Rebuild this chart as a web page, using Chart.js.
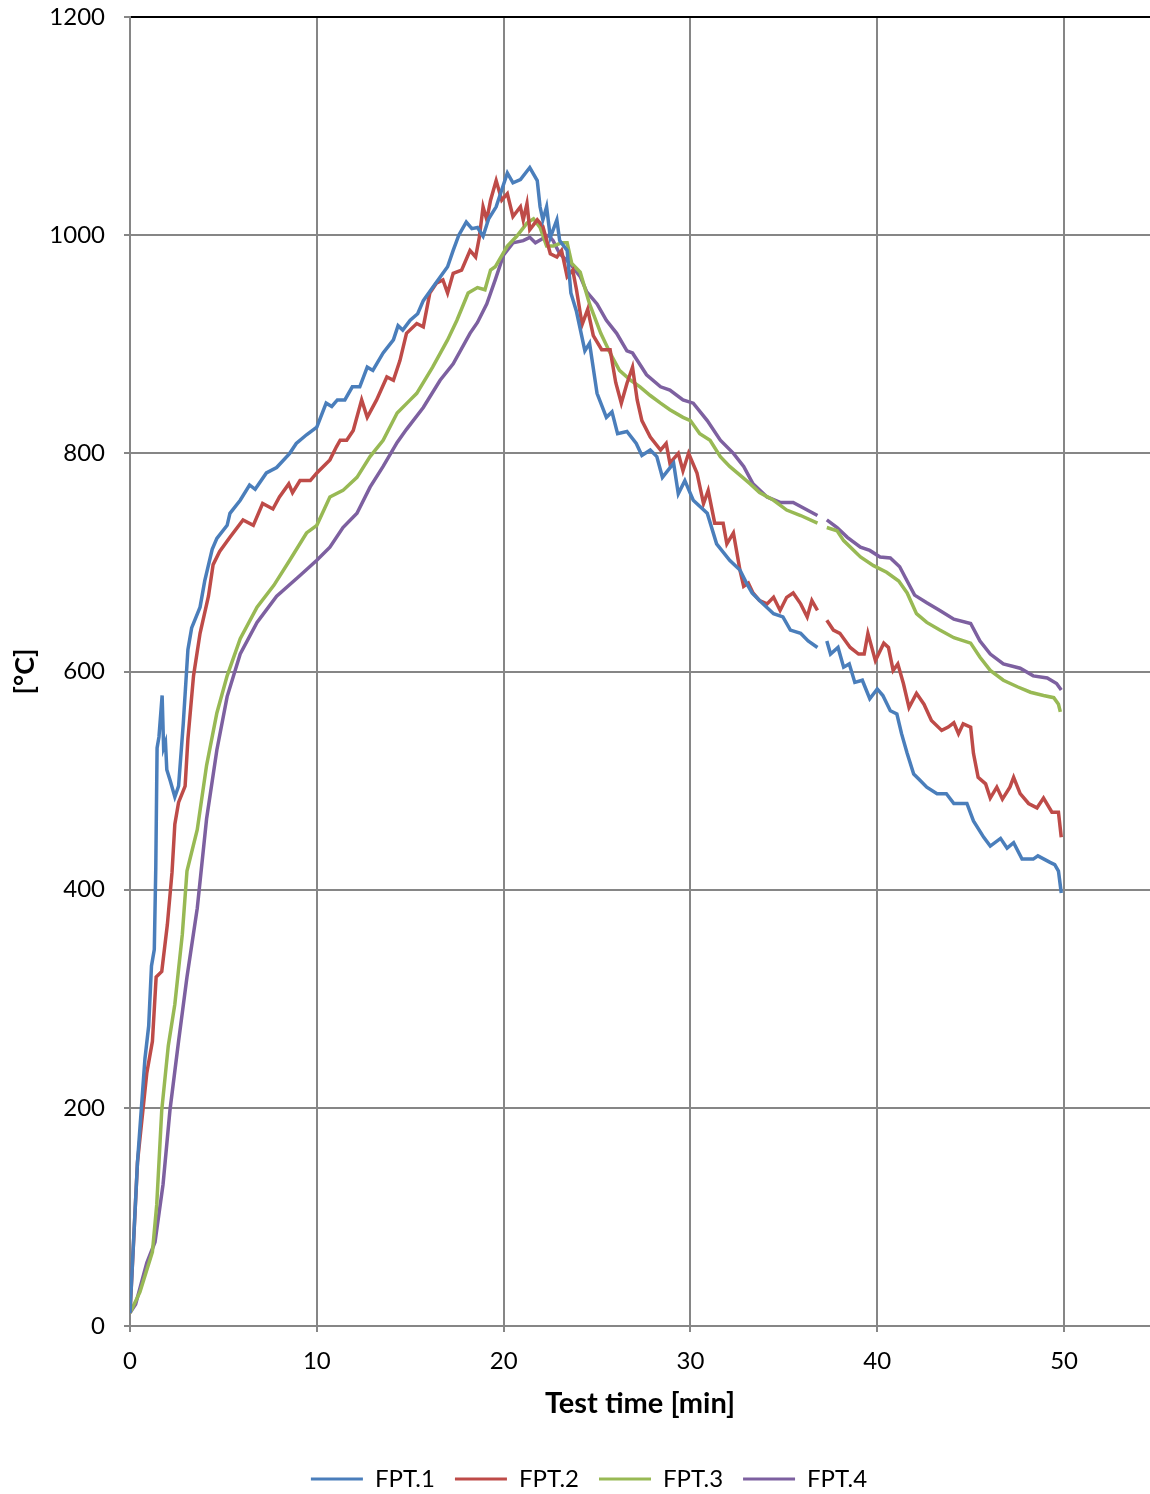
<!DOCTYPE html>
<html>
<head>
<meta charset="utf-8">
<script src="https://cdn.jsdelivr.net/npm/chart.js@4/dist/chart.umd.min.js"></script>
<style>
  body { margin: 0; background: #fff; }
  canvas { display: block; }
</style>
</head>
<body>
<canvas id="myChart" width="1150" height="1494"></canvas>
<script>

// [time min, temperature °C]; null = logger gap
const fpt1 = [
  [0, 12], [0.4, 150], [0.8, 245], [1.0, 275], [1.15, 330], [1.3, 345], [1.38, 420], [1.45, 530],
  [1.55, 540], [1.72, 578], [1.8, 530], [1.9, 535], [1.97, 510], [2.15, 500], [2.4, 485], [2.6, 495],
  [2.85, 552], [3.1, 620], [3.3, 640], [3.75, 659], [4.0, 683], [4.4, 712], [4.65, 722], [5.2, 734],
  [5.35, 745], [5.9, 757], [6.4, 771], [6.7, 767], [7.3, 782], [7.85, 787], [8.55, 800], [8.9, 809],
  [9.45, 817], [10.0, 824], [10.5, 846], [10.8, 843], [11.1, 849], [11.5, 849], [11.9, 861], [12.3, 861],
  [12.7, 879], [13.0, 876], [13.55, 892], [14.1, 904], [14.35, 917], [14.6, 913], [15.0, 922], [15.4, 928],
  [15.7, 940], [16.2, 952], [17.0, 971], [17.3, 986], [17.6, 1000], [18.0, 1012], [18.3, 1006], [18.6, 1007],
  [18.9, 999], [19.2, 1015], [19.6, 1026], [20.2, 1057], [20.5, 1048], [20.9, 1051], [21.4, 1062], [21.8, 1050],
  [21.95, 1026], [22.1, 1014], [22.3, 1026], [22.5, 998], [22.85, 1014], [23.0, 995], [23.4, 986], [23.6, 947],
  [23.9, 930], [24.35, 894], [24.6, 901], [25.0, 855], [25.5, 833], [25.8, 838], [26.1, 818], [26.6, 820],
  [27.1, 809], [27.4, 798], [27.85, 803], [28.2, 797], [28.5, 778], [29.1, 791], [29.35, 763], [29.7, 775],
  [30.15, 757], [30.9, 745], [31.4, 717], [32.1, 702], [32.65, 693], [33.0, 681], [33.3, 672], [33.7, 665],
  [34.45, 653], [34.95, 650], [35.35, 638], [35.9, 635], [36.3, 628], [36.8, 622], [37, null],
  [37.3, 628], [37.5, 616], [37.9, 622], [38.2, 604], [38.5, 607], [38.8, 590], [39.2, 592], [39.6, 575],
  [40.0, 584], [40.3, 578], [40.7, 564], [41.05, 561], [41.3, 543], [41.6, 525], [41.95, 506], [42.3, 500],
  [42.65, 494], [43.2, 488], [43.7, 488], [44.1, 479], [44.8, 479], [45.15, 463], [45.7, 448], [46.05, 440],
  [46.6, 447], [46.95, 438], [47.3, 443], [47.75, 428], [48.35, 428], [48.6, 431], [49.25, 425], [49.5, 423],
  [49.7, 417], [49.85, 397]
];

const fpt2 = [
  [0, 12], [0.2, 80], [0.4, 150], [0.9, 232], [1.2, 261], [1.4, 320], [1.7, 325], [2.0, 368],
  [2.25, 416], [2.4, 460], [2.6, 480], [2.95, 495], [3.1, 538], [3.4, 596], [3.75, 635], [4.2, 669],
  [4.45, 698], [4.8, 710], [5.35, 723], [6.05, 739], [6.6, 734], [7.1, 754], [7.65, 749], [8.0, 760],
  [8.5, 772], [8.7, 764], [9.1, 775], [9.65, 775], [10.0, 782], [10.7, 794], [11.05, 806], [11.25, 812],
  [11.6, 812], [11.95, 821], [12.4, 849], [12.7, 833], [13.2, 849], [13.75, 870], [14.1, 867], [14.45, 885],
  [14.8, 910], [15.35, 919], [15.7, 916], [16.05, 947], [16.4, 956], [16.75, 959], [17.0, 947], [17.3, 965],
  [17.75, 968], [18.2, 986], [18.5, 980], [18.7, 998], [18.9, 1026], [19.1, 1014], [19.3, 1032], [19.6, 1050],
  [19.9, 1032], [20.2, 1038], [20.5, 1017], [20.9, 1026], [21.05, 1014], [21.25, 1029], [21.4, 1005], [21.8, 1014],
  [22.1, 1008], [22.5, 983], [22.85, 980], [23.1, 986], [23.4, 962], [23.7, 968], [23.9, 950], [24.2, 918],
  [24.5, 932], [24.8, 908], [25.25, 895], [25.7, 895], [26.0, 865], [26.3, 846], [26.6, 864], [26.9, 879],
  [27.15, 849], [27.4, 830], [27.85, 815], [28.4, 803], [28.7, 809], [28.9, 791], [29.35, 800], [29.6, 784],
  [29.9, 800], [30.35, 782], [30.7, 754], [30.95, 766], [31.3, 736], [31.75, 736], [31.95, 717], [32.3, 727],
  [32.65, 693], [32.85, 678], [33.1, 681], [33.35, 672], [33.7, 665], [34.1, 662], [34.45, 668], [34.8, 656],
  [35.15, 668], [35.5, 672], [35.9, 662], [36.25, 650], [36.5, 665], [36.8, 656], [37, null],
  [37.3, 647], [37.65, 638], [38.0, 635], [38.55, 622], [39.0, 616], [39.3, 616], [39.5, 635], [39.9, 610],
  [40.35, 626], [40.6, 622], [40.85, 601], [41.1, 607], [41.4, 589], [41.7, 567], [42.1, 580], [42.5, 570],
  [42.9, 555], [43.45, 546], [43.8, 549], [44.1, 553], [44.35, 543], [44.6, 552], [45.0, 549], [45.15, 525],
  [45.4, 503], [45.8, 497], [46.05, 484], [46.4, 494], [46.7, 483], [47.1, 494], [47.3, 503], [47.65, 488],
  [48.1, 479], [48.55, 475], [48.9, 484], [49.35, 471], [49.7, 471], [49.85, 448]
];

const fpt3 = [
  [0, 12], [0.53, 31], [1.2, 68], [1.43, 111], [1.7, 198], [2.05, 257], [2.4, 295], [2.8, 359],
  [3.05, 417], [3.6, 455], [4.1, 514], [4.65, 562], [5.2, 596], [5.9, 630], [6.8, 659], [7.7, 679],
  [8.55, 702], [9.45, 727], [10.0, 734], [10.7, 760], [11.4, 766], [12.15, 778], [12.85, 797], [13.55, 812],
  [14.3, 837], [15.0, 849], [15.35, 855], [16.2, 879], [17.0, 904], [17.5, 922], [18.1, 947], [18.6, 952],
  [19.0, 950], [19.3, 968], [19.55, 971], [20.2, 990], [20.7, 999], [21.25, 1011], [21.6, 1015], [21.95, 1007],
  [22.3, 990], [22.65, 990], [23.1, 993], [23.4, 993], [23.65, 974], [24.1, 966], [24.6, 937], [25.2, 910],
  [25.7, 892], [26.2, 876], [26.8, 867], [27.3, 861], [27.85, 853], [28.4, 846], [28.9, 840], [29.6, 833],
  [30.0, 830], [30.5, 818], [31.05, 812], [31.6, 797], [32.1, 788], [32.65, 780], [33.2, 772], [33.7, 764],
  [34.45, 757], [35.15, 748], [35.9, 743], [36.8, 736], [37, null],
  [37.3, 732], [37.85, 729], [38.2, 720], [39.1, 705], [39.8, 697], [40.5, 691], [41.15, 683], [41.6, 672],
  [42.1, 653], [42.65, 645], [43.35, 638], [44.1, 631], [45.0, 626], [45.5, 613], [46.05, 601], [46.75, 592],
  [47.5, 586], [48.2, 581], [48.9, 578], [49.45, 576], [49.7, 570], [49.8, 563]
];

const fpt4 = [
  [0, 12], [0.3, 20], [0.9, 58], [1.34, 77], [1.77, 130], [2.14, 198], [2.6, 261], [3.05, 320],
  [3.6, 383], [4.1, 465], [4.65, 528], [5.2, 577], [5.9, 616], [6.8, 645], [7.85, 669], [9.1, 688],
  [10.0, 702], [10.7, 714], [11.4, 732], [12.15, 745], [12.85, 769], [13.55, 788], [14.3, 810], [14.8, 822],
  [15.7, 842], [16.6, 867], [17.3, 882], [18.2, 910], [18.6, 920], [19.1, 937], [19.55, 959], [20.0, 982],
  [20.5, 993], [21.05, 995], [21.4, 998], [21.7, 993], [22.1, 997], [22.4, 1000], [22.65, 995], [23.0, 983],
  [23.55, 974], [24.1, 962], [24.45, 948], [25.0, 937], [25.5, 922], [26.05, 910], [26.6, 894], [26.9, 892],
  [27.65, 872], [28.4, 861], [28.9, 858], [29.6, 849], [30.15, 846], [30.9, 830], [31.6, 812], [32.3, 800],
  [32.85, 788], [33.35, 772], [34.1, 760], [34.8, 755], [35.5, 755], [36.25, 748], [36.8, 743], [37, null],
  [37.3, 739], [37.85, 732], [38.4, 723], [39.1, 714], [39.6, 711], [40.15, 705], [40.7, 704], [41.2, 696],
  [41.6, 683], [42.0, 670], [42.65, 663], [43.35, 656], [44.1, 648], [45.0, 644], [45.5, 628], [46.05, 616],
  [46.75, 607], [47.65, 603], [48.35, 596], [49.1, 594], [49.6, 589], [49.85, 583]
];

const seriesNames = ['FPT.1', 'FPT.2', 'FPT.3', 'FPT.4'];
const seriesColors = ['#4A7EBB', '#BE4B48', '#98B954', '#7D60A0'];
const xTicks = [0, 10, 20, 30, 40, 50];

const FONT = 'Lato, "Open Sans", sans-serif';
const GRID = '#868686';

const toPoints = (arr) => arr.map(p => ({ x: p[0], y: p[1] }));

const myChart = new Chart(document.getElementById('myChart').getContext('2d'), {
    type: 'line',
    data: {
        datasets: [fpt1, fpt2, fpt3, fpt4].map((s, i) => ({
            label: seriesNames[i],
            data: toPoints(s),
            borderColor: seriesColors[i],
            backgroundColor: seriesColors[i],
            borderWidth: 3.5,
            pointRadius: 0,
            tension: 0,
            spanGaps: false,
            fill: false,
        }))
    },
    options: {
        responsive: false,
        animation: false,
        layout: {
            // left pad shifts the legend row to the right, y box shrinks to match
            padding: { top: 0, right: 0, bottom: -7, left: 28 }
        },
        plugins: {
            tooltip: { enabled: false },
            legend: {
                position: 'bottom',
                labels: {
                    color: '#000',
                    font: { size: 24, family: FONT },
                    boxWidth: 52,
                    boxHeight: 3,
                    padding: 2,
                    // trailing em-space keeps the wide gap between entries
                    generateLabels: (chart) => chart.data.datasets.map((d, i, all) => ({
                        text: i < all.length - 1 ? d.label + '\u2003' : d.label,
                        fillStyle: d.borderColor,
                        strokeStyle: d.borderColor,
                        lineWidth: 0,
                        datasetIndex: i,
                        fontColor: '#000',
                    }))
                }
            }
        },
        scales: {
            x: {
                type: 'linear',
                min: 0,
                max: 54.6,
                afterBuildTicks: (axis) => {
                    axis.ticks = xTicks.map(v => ({ value: v }));
                },
                afterFit: (axis) => { axis.height = 139; },
                grid: {
                    color: GRID,
                    lineWidth: 2,
                    tickLength: 6,
                    tickColor: GRID,
                },
                border: { color: GRID, width: 2 },
                ticks: {
                    color: '#000',
                    font: { size: 24, family: FONT },
                    padding: 15,
                    maxRotation: 0,
                    callback: (v) => String(v),
                },
                title: {
                    display: true,
                    text: 'Test time [min]',
                    color: '#000',
                    font: { size: 29, weight: 'bold', family: FONT },
                    padding: { top: 0, bottom: 44 }
                }
            },
            y: {
                min: 0,
                max: 1200,
                afterFit: (axis) => {
                    axis.width = 102;
                    axis.paddingTop = 17;
                },
                grid: {
                    color: (ctx) => ctx.tick && ctx.tick.value === 1200 ? '#000' : GRID,
                    lineWidth: 2,
                    tickLength: 6,
                    tickColor: GRID,
                },
                border: { color: GRID, width: 2 },
                ticks: {
                    stepSize: 200,
                    color: '#000',
                    font: { size: 24, family: FONT },
                    padding: 19,
                    callback: (v) => String(v),
                },
                title: {
                    display: true,
                    text: '[°C]',
                    color: '#000',
                    font: { size: 27, weight: 'bold', family: FONT },
                    padding: { top: -19, bottom: 0 }
                }
            }
        }
    }
});

</script>
</body>
</html>
